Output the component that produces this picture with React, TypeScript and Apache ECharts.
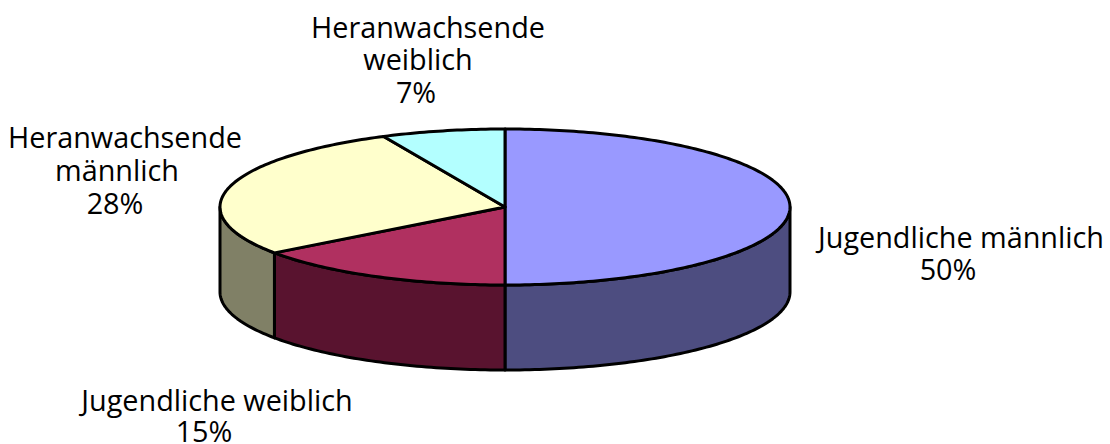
import React, { useEffect, useRef } from "react";
import * as echarts from "echarts";

const categories = ["Jugendliche männlich", "Jugendliche weiblich", "Heranwachsende männlich", "Heranwachsende weiblich"];
const values = [50, 15, 28, 7];
const topColors = ["#9999ff", "#b03060", "#ffffcc", "#b3ffff"];
const sideColors = ["#4d4d80", "#59132f", "#808066", "#5a8080"];
const labelLines = [["Jugendliche männlich"], ["Jugendliche weiblich"], ["Heranwachsende", "männlich"], ["Heranwachsende", "weiblich"]];
const labelAnchors = [
  [[961, 237], [948, 269]],
  [[217, 400], [204, 431]],
  [[125, 137], [117, 170], [115, 203]],
  [[428, 27], [418, 59], [416, 92]],
];

const CX = 505, CY = 207, RX = 285, RY = 78, DEPTH = 85;
const total = values.reduce((a, b) => a + b, 0);
const pt = (deg: number, dy = 0) => {
  const t = (deg * Math.PI) / 180;
  return [CX + RX * Math.sin(t), CY - RY * Math.cos(t) + dy];
};
const arc = (a: number, b: number, dy = 0) => {
  const out: number[][] = [];
  const n = Math.max(2, Math.ceil(Math.abs(b - a)));
  for (let i = 0; i <= n; i++) out.push(pt(a + ((b - a) * i) / n, dy));
  return out;
};
const ranges = (() => {
  let acc = 0;
  return values.map((v) => {
    const a = (acc / total) * 360;
    acc += v;
    return [a, (acc / total) * 360];
  });
})();

const stroke = { stroke: "#000", lineWidth: 3, lineJoin: "round" as const };

export default function App() {
  const ref = useRef<HTMLDivElement>(null);
  useEffect(() => {
    const chart = echarts.init(ref.current!, undefined, { renderer: "svg" });
    chart.setOption({
      animation: false,
      backgroundColor: "#fff",
      series: [
        {
          type: "custom",
          coordinateSystem: "none",
          clip: false,
          silent: true,
          data: values.map((v, i) => ({ name: categories[i], value: v })),
          renderItem: (params: any) => {
            const i = params.dataIndex;
            const [a, b] = ranges[i];
            const children: any[] = [];
            const wa = Math.max(a, 90), wb = Math.min(b, 270);
            if (wb > wa) {
              const pts = [...arc(wa, wb), ...arc(wb, wa, DEPTH)];
              children.push({ type: "polygon", shape: { points: pts }, style: { fill: sideColors[i], ...stroke } });
            }
            children.push({
              type: "polygon",
              shape: { points: [[CX, CY], ...arc(a, b)] },
              style: { fill: topColors[i], ...stroke },
            });
            return { type: "group", children };
          },
        },
      ],
      graphic: categories.flatMap((_, i) =>
        [...labelLines[i], `${values[i]}%`].map((text, j) => ({
          type: "text",
          x: labelAnchors[i][j][0],
          y: labelAnchors[i][j][1],
          scaleX: 0.96,
          style: {
            text,
            fill: "#000",
            font: "30px 'Open Sans'",
            lineHeight: 26,
            align: "center",
            verticalAlign: "middle",
          },
        }))
      ),
    });
    return () => chart.dispose();
  }, []);
  return <div ref={ref} style={{ position: "fixed", left: 0, top: 0, width: 1110, height: 444 }} />;
}
